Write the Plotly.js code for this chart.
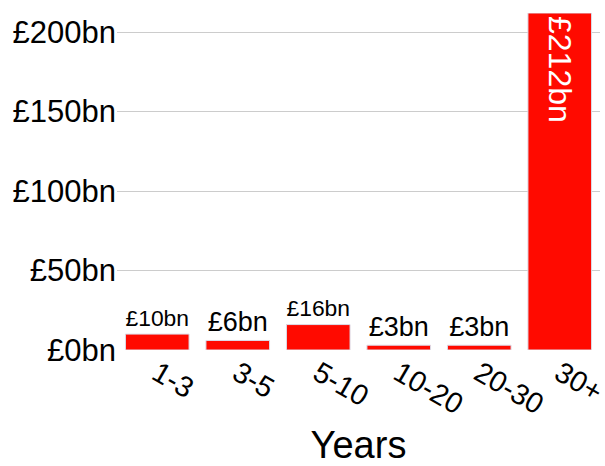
<!DOCTYPE html>
<html><head><meta charset="utf-8">
<script src="https://cdn.plot.ly/plotly-3.0.1.min.js"></script>
<style>html,body{margin:0;padding:0;background:#fff}</style>
</head><body><div id="chart" style="width:605px;height:466px"></div>
<script>
const categories = ["1-3", "3-5", "5-10", "10-20", "20-30", "30+"];
const values = [10, 6, 16, 3, 3, 212];
const labels = ["£10bn", "£6bn", "£16bn", "£3bn", "£3bn", "£212bn"];
const yTickVals = [0, 50, 100, 150, 200];
const yTickText = ["£0bn", "£50bn", "£100bn", "£150bn", "£200bn"];

const font = "Liberation Sans, Arial, sans-serif";
const barStyle = {color: "#ff0a00", line: {color: "#dcdce8", width: 1}};
const n = categories.length;

const traces = [
  {
    type: "bar", x: categories.slice(0, n - 1), y: values.slice(0, n - 1),
    text: labels.slice(0, n - 1), textposition: "outside", textangle: 0,
    outsidetextfont: {family: font, size: 27, color: "#000"},
    cliponaxis: false, marker: barStyle, hoverinfo: "none"
  },
  {
    type: "bar", x: categories.slice(n - 1), y: values.slice(n - 1),
    text: labels.slice(n - 1), textposition: "inside", textangle: 90,
    insidetextanchor: "end",
    insidetextfont: {family: font, size: 32, color: "#fff"},
    marker: barStyle, hoverinfo: "none"
  }
];

const layout = {
  width: 605, height: 466,
  margin: {l: 117, r: 5, t: 13, b: 116},
  paper_bgcolor: "#fff", plot_bgcolor: "#fff",
  showlegend: false, barmode: "overlay", bargap: 0.21,
  font: {family: font, color: "#000"},
  xaxis: {
    categoryorder: "array", categoryarray: categories,
    tickangle: 30, tickfont: {size: 29, family: font},
    showgrid: false, showline: false, ticks: "",
    title: {text: "Years", font: {size: 38, family: font}, standoff: 17}
  },
  yaxis: {
    range: [0, 212], tickvals: yTickVals, ticktext: yTickText,
    tickfont: {size: 31, family: font},
    showgrid: true, gridcolor: "#cccccc", gridwidth: 1,
    zeroline: false, showline: false, ticks: ""
  }
};

Plotly.newPlot("chart", traces, layout, {staticPlot: true, displayModeBar: false});
</script></body></html>
